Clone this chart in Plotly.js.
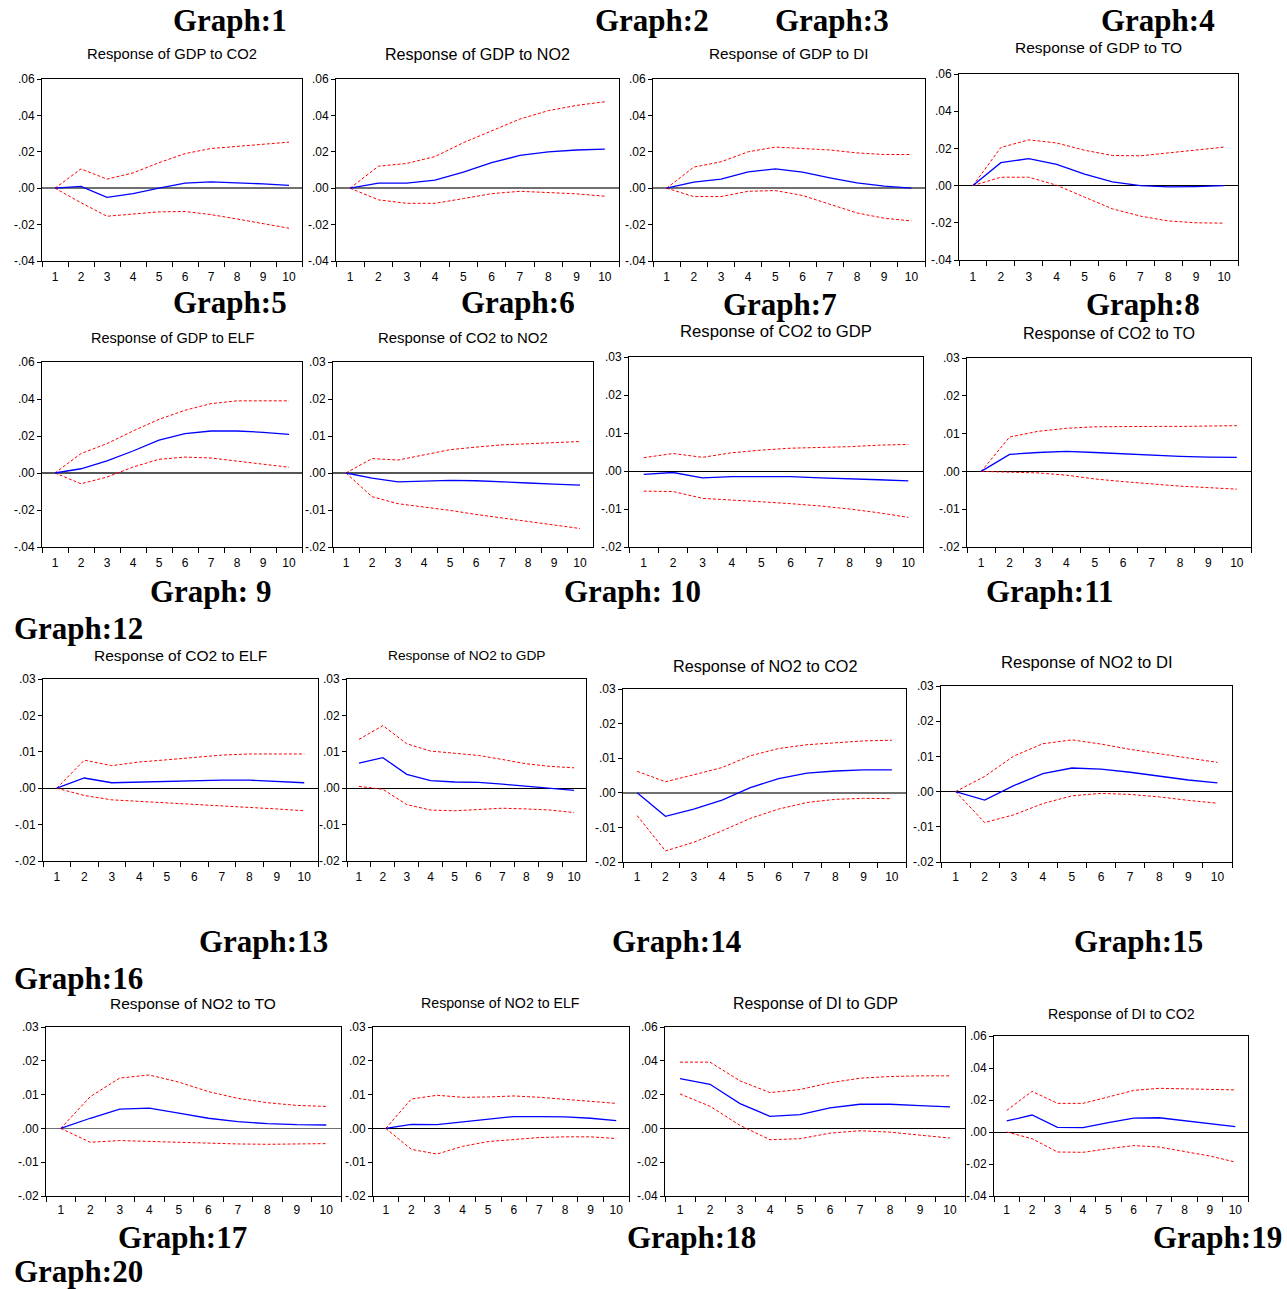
<!DOCTYPE html>
<html><head><meta charset="utf-8">
<script src="https://cdn.plot.ly/plotly-3.0.1.min.js"></script>
<style>html,body{margin:0;padding:0;background:#fff}#chart{width:1287px;height:1289px}</style>
</head><body><div id="chart"></div>
<script>
// ---------- data ----------
const steps = ['1','2','3','4','5','6','7','8','9','10'];
const ticksA = [-0.04,-0.02,0,0.02,0.04,0.06];
const ticksAText = ['-.04','-.02','.00','.02','.04','.06'];
const ticksB = [-0.02,-0.01,0,0.01,0.02,0.03];
const ticksBText = ['-.02','-.01','.00','.01','.02','.03'];

const titles = ['Response of GDP to CO2','Response of GDP to NO2','Response of GDP to DI','Response of GDP to TO',
  'Response of GDP to ELF','Response of CO2 to NO2','Response of CO2 to GDP','Response of CO2 to TO',
  'Response of CO2 to ELF','Response of NO2 to GDP','Response of NO2 to CO2','Response of NO2 to DI',
  'Response of NO2 to TO','Response of NO2 to ELF','Response of DI to GDP','Response of DI to CO2'];

const graphLabels = ['Graph:1','Graph:2','Graph:3','Graph:4','Graph:5','Graph:6','Graph:7','Graph:8',
  'Graph: 9','Graph: 10','Graph:11','Graph:12','Graph:13','Graph:14','Graph:15','Graph:16',
  'Graph:17','Graph:18','Graph:19','Graph:20'];

const g1Resp = [0,0.001,-0.005,-0.003,0,0.0028,0.0035,0.003,0.0024,0.0015];
const g1Up   = [0,0.0106,0.005,0.0084,0.014,0.019,0.0218,0.023,0.0242,0.0253];
const g1Lo   = [0,-0.008,-0.0154,-0.0141,-0.013,-0.0128,-0.0145,-0.0169,-0.0195,-0.022];

const g2Resp = [0,0.0028,0.0028,0.0044,0.0088,0.014,0.018,0.020,0.021,0.0215];
const g2Up   = [0,0.0121,0.0136,0.0174,0.025,0.0317,0.038,0.0426,0.0455,0.0475];
const g2Lo   = [0,-0.0064,-0.0083,-0.0083,-0.0057,-0.003,-0.0017,-0.0022,-0.0031,-0.0044];

const g3Resp = [0,0.0033,0.005,0.009,0.0106,0.0088,0.0057,0.0029,0.0011,0];
const g3Up   = [0,0.0116,0.0145,0.020,0.0226,0.022,0.021,0.0194,0.0185,0.0185];
const g3Lo   = [0,-0.0046,-0.0046,-0.0017,-0.0013,-0.004,-0.0088,-0.0136,-0.0165,-0.018];

const g4Resp = [0,0.0123,0.0145,0.0114,0.0062,0.002,0,-0.0007,-0.0005,0];
const g4Up   = [0,0.0205,0.0246,0.0229,0.019,0.0162,0.016,0.0175,0.0191,0.0207];
const g4Lo   = [0,0.0045,0.0045,0.0002,-0.0062,-0.0125,-0.0164,-0.019,-0.020,-0.0202];

const g5Resp = [0,0.0023,0.0065,0.0119,0.0178,0.0213,0.0227,0.0227,0.022,0.0209];
const g5Up   = [0,0.0105,0.0159,0.0227,0.029,0.0339,0.0375,0.039,0.039,0.039];
const g5Lo   = [0,-0.0058,-0.0022,0.0032,0.0074,0.0086,0.0081,0.0065,0.0047,0.0031];

const g6Resp = [0,-0.0014,-0.0024,-0.0022,-0.002,-0.0021,-0.0023,-0.0027,-0.003,-0.0033];
const g6Up   = [0,0.0039,0.0035,0.005,0.0063,0.007,0.0076,0.0079,0.0082,0.0085];
const g6Lo   = [0,-0.0064,-0.0083,-0.0091,-0.0101,-0.0112,-0.0122,-0.0131,-0.014,-0.015];

const g7Resp = [-0.0009,-0.0004,-0.0018,-0.0015,-0.0015,-0.0015,-0.0018,-0.002,-0.0023,-0.0026];
const g7Up   = [0.0035,0.0046,0.0036,0.0048,0.0055,0.006,0.0062,0.0064,0.0068,0.007];
const g7Lo   = [-0.0053,-0.0054,-0.0072,-0.0076,-0.0081,-0.0086,-0.0092,-0.01,-0.011,-0.0122];

const g8Resp = [0,0.0045,0.005,0.0053,0.005,0.0046,0.0042,0.004,0.0038,0.0037];
const g8Up   = [0,0.0091,0.0106,0.0114,0.0118,0.0119,0.0119,0.0119,0.012,0.0121];
const g8Lo   = [0,-0.0001,-0.0004,-0.001,-0.002,-0.0027,-0.0034,-0.0039,-0.0043,-0.0047];

const g9Resp = [0,0.0028,0.0015,0.0017,0.0019,0.0021,0.0022,0.0022,0.0019,0.0015];
const g9Up   = [0,0.0077,0.0062,0.0072,0.0078,0.0085,0.0091,0.0094,0.0094,0.0094];
const g9Lo   = [0,-0.002,-0.0032,-0.0036,-0.0039,-0.0043,-0.0047,-0.0051,-0.0057,-0.0062];

const g10Resp = [0.0069,0.0084,0.0038,0.0021,0.0017,0.0016,0.0011,0.0006,0,-0.0006];
const g10Up   = [0.0134,0.0172,0.0122,0.0102,0.0096,0.009,0.0079,0.0067,0.006,0.0056];
const g10Lo   = [0.0005,-0.0003,-0.0045,-0.006,-0.0062,-0.0058,-0.0055,-0.0057,-0.006,-0.0067];

const g11Resp = [0,-0.0068,-0.0047,-0.0021,0.0015,0.0041,0.0057,0.0063,0.0066,0.0066];
const g11Up   = [0.0062,0.0032,0.0052,0.0073,0.0107,0.0128,0.0139,0.0145,0.015,0.0152];
const g11Lo   = [-0.0066,-0.0168,-0.0143,-0.011,-0.0074,-0.0047,-0.0028,-0.0019,-0.0016,-0.0017];

const g12Resp = [0,-0.0024,0.0017,0.0051,0.0067,0.0064,0.0055,0.0043,0.0033,0.0025];
const g12Up   = [0,0.0043,0.0101,0.0136,0.0147,0.0135,0.012,0.0107,0.0094,0.0083];
const g12Lo   = [0,-0.0088,-0.0066,-0.0034,-0.0012,-0.0005,-0.0008,-0.0015,-0.0025,-0.0033];

const g13Resp = [0,0.003,0.0057,0.006,0.0045,0.003,0.002,0.0014,0.0011,0.001];
const g13Up   = [0,0.0094,0.0149,0.0158,0.0137,0.0109,0.0089,0.0076,0.0068,0.0065];
const g13Lo   = [0,-0.0041,-0.0036,-0.0039,-0.0042,-0.0044,-0.0046,-0.0047,-0.0047,-0.0045];

const g14Resp = [0,0.0012,0.0011,0.0019,0.0028,0.0035,0.0035,0.0034,0.003,0.0023];
const g14Up   = [0,0.0087,0.0098,0.0092,0.0093,0.0096,0.0092,0.0087,0.008,0.0074];
const g14Lo   = [0,-0.0062,-0.0076,-0.0053,-0.0039,-0.0032,-0.0027,-0.0025,-0.0025,-0.003];

const g15Resp = [0.0295,0.0261,0.0147,0.0071,0.0081,0.0121,0.0143,0.0143,0.0135,0.0127];
const g15Up   = [0.0392,0.0392,0.0281,0.0212,0.023,0.027,0.0297,0.0307,0.0311,0.0311];
const g15Lo   = [0.0204,0.0131,0.0018,-0.0067,-0.0061,-0.0028,-0.0014,-0.0022,-0.004,-0.0057];

const g16Resp = [0.0069,0.0106,0.0029,0.0027,0.0058,0.0087,0.0089,0.0071,0.005,0.0033];
const g16Up   = [0.0135,0.0254,0.0179,0.0179,0.0219,0.026,0.0273,0.0271,0.0267,0.0263];
const g16Lo   = [0,-0.0042,-0.0125,-0.0127,-0.0104,-0.0085,-0.0094,-0.0121,-0.015,-0.0188];

// ---------- layout geometry (pixels) ----------
const W = 1287, H = 1289;
const panels = [
  {resp:g1Resp, up:g1Up, lo:g1Lo, box:[42,79,302,261], scale:'A', ty:54, fs:14.8, zc:'#707070', zw:2, so:5},
  {resp:g2Resp, up:g2Up, lo:g2Lo, box:[336,79,619,261], scale:'A', ty:54, fs:16.1, zc:'#707070', zw:2, so:5},
  {resp:g3Resp, up:g3Up, lo:g3Lo, box:[653,79,925,261], scale:'A', ty:54, fs:15.3, zc:'#707070', zw:2, so:5},
  {resp:g4Resp, up:g4Up, lo:g4Lo, box:[959,74,1238,260], scale:'A', ty:48, fs:15.5, zc:'#000', zw:1, so:6},
  {resp:g5Resp, up:g5Up, lo:g5Lo, box:[42,362,302,547], scale:'A', ty:338, fs:14.5, zc:'#555', zw:1.3, so:5},
  {resp:g6Resp, up:g6Up, lo:g6Lo, box:[333,362,593,547], scale:'B', ty:338, fs:14.9, zc:'#555', zw:1.3, so:5},
  {resp:g7Resp, up:g7Up, lo:g7Lo, box:[629,357,923,547], scale:'B', ty:332, fs:16.7, zc:'#000', zw:1, so:5},
  {resp:g8Resp, up:g8Up, lo:g8Lo, box:[967,358,1251,547], scale:'B', ty:333, fs:16.1, zc:'#000', zw:1, so:5},
  {resp:g9Resp, up:g9Up, lo:g9Lo, box:[43,679,318,861], scale:'B', ty:655, fs:15.5, zc:'#000', zw:1, so:5},
  {resp:g10Resp, up:g10Up, lo:g10Lo, box:[347,679,586,861], scale:'B', ty:655, fs:13.7, zc:'#000', zw:1, so:5},
  {resp:g11Resp, up:g11Up, lo:g11Lo, box:[623,689,906,862], scale:'B', ty:666, fs:16.2, zc:'#707070', zw:2, so:4},
  {resp:g12Resp, up:g12Up, lo:g12Lo, box:[941,686,1232,862], scale:'B', ty:662, fs:16.6, zc:'#000', zw:1, so:4},
  {resp:g13Resp, up:g13Up, lo:g13Lo, box:[46,1027,341,1196], scale:'B', ty:1003, fs:15.5, zc:'#707070', zw:1.6, so:3},
  {resp:g14Resp, up:g14Up, lo:g14Lo, box:[373,1027,629,1196], scale:'B', ty:1003, fs:14.2, zc:'#000', zw:1, so:3},
  {resp:g15Resp, up:g15Up, lo:g15Lo, box:[665,1027,965,1196], scale:'A', ty:1003, fs:15.8, zc:'#000', zw:1, so:3},
  {resp:g16Resp, up:g16Up, lo:g16Lo, box:[994,1036,1248,1196], scale:'A', ty:1014, fs:14.2, zc:'#000', zw:1, so:3}
];
const labelPos = [[230,20],[652,20],[832,20],[1158,20],[230,303],[518,303],[780,304],[1143,304],
  [210,591],[632,591],[1049,591],[78,628],[263,941],[676,941],[1138,941],[78,978],
  [182,1237],[691,1237],[1217,1237],[78,1271]];

const traces = [];
const layout = {
  width: W, height: H, margin: {l:0, r:0, t:0, b:0, pad:0},
  paper_bgcolor: '#fff', plot_bgcolor: '#fff', showlegend: false,
  font: {family: 'Liberation Sans, Arial, sans-serif', color: '#000'},
  annotations: []
};

panels.forEach((p, i) => {
  const n = i + 1;
  const xa = n === 1 ? 'x' : 'x' + n;
  const ya = n === 1 ? 'y' : 'y' + n;
  const [l, t, r, b] = p.box;
  const tv = p.scale === 'A' ? ticksA : ticksB;
  const tt = p.scale === 'A' ? ticksAText : ticksBText;
  const dashLine = {color: '#ff0000', width: 1, dash: '3px,2px'};
  traces.push({x: steps, y: p.up, type: 'scatter', mode: 'lines', xaxis: xa, yaxis: ya, line: dashLine, hoverinfo: 'skip'});
  traces.push({x: steps, y: p.lo, type: 'scatter', mode: 'lines', xaxis: xa, yaxis: ya, line: dashLine, hoverinfo: 'skip'});
  traces.push({x: steps, y: p.resp, type: 'scatter', mode: 'lines', xaxis: xa, yaxis: ya, line: {color: '#0000ff', width: 1.3}, hoverinfo: 'skip'});
  layout['xaxis' + (n === 1 ? '' : n)] = {
    domain: [l / W, r / W], anchor: ya, type: 'category', categoryorder: 'array', categoryarray: steps,
    range: [-0.5, 9.5], tickson: 'boundaries', ticks: 'outside', ticklen: 5, tickcolor: '#000', tickwidth: 1,
    ticklabelstandoff: p.so,
    showline: true, mirror: true, linecolor: '#000', linewidth: 1, showgrid: false, zeroline: false,
    tickfont: {size: 12, family: 'Liberation Sans, Arial, sans-serif', color: '#000'}, fixedrange: true
  };
  layout['yaxis' + (n === 1 ? '' : n)] = {
    domain: [1 - b / H, 1 - t / H], anchor: xa, range: [tv[0], tv[tv.length - 1]],
    tickmode: 'array', tickvals: tv, ticktext: tt, ticks: 'outside', ticklen: 4, tickcolor: '#000',
    showline: true, mirror: true, linecolor: '#000', linewidth: 1, showgrid: false,
    zeroline: true, zerolinecolor: p.zc, zerolinewidth: p.zw,
    tickfont: {size: 12, family: 'Liberation Sans, Arial, sans-serif', color: '#000'}, fixedrange: true
  };
  layout.annotations.push({
    text: titles[i], xref: 'paper', yref: 'paper', x: (l + r) / 2 / W, y: 1 - p.ty / H,
    xanchor: 'center', yanchor: 'middle', showarrow: false,
    font: {size: p.fs, family: 'Liberation Sans, Arial, sans-serif', color: '#000'}
  });
});

graphLabels.forEach((g, i) => {
  layout.annotations.push({
    text: '<b>' + g + '</b>', xref: 'paper', yref: 'paper',
    x: labelPos[i][0] / W, y: 1 - labelPos[i][1] / H, xanchor: 'center', yanchor: 'middle',
    showarrow: false, font: {size: 31, family: 'Liberation Serif, Times New Roman, serif', color: '#000'}
  });
});

Plotly.newPlot('chart', traces, layout, {displayModeBar: false, staticPlot: true});
</script></body></html>
